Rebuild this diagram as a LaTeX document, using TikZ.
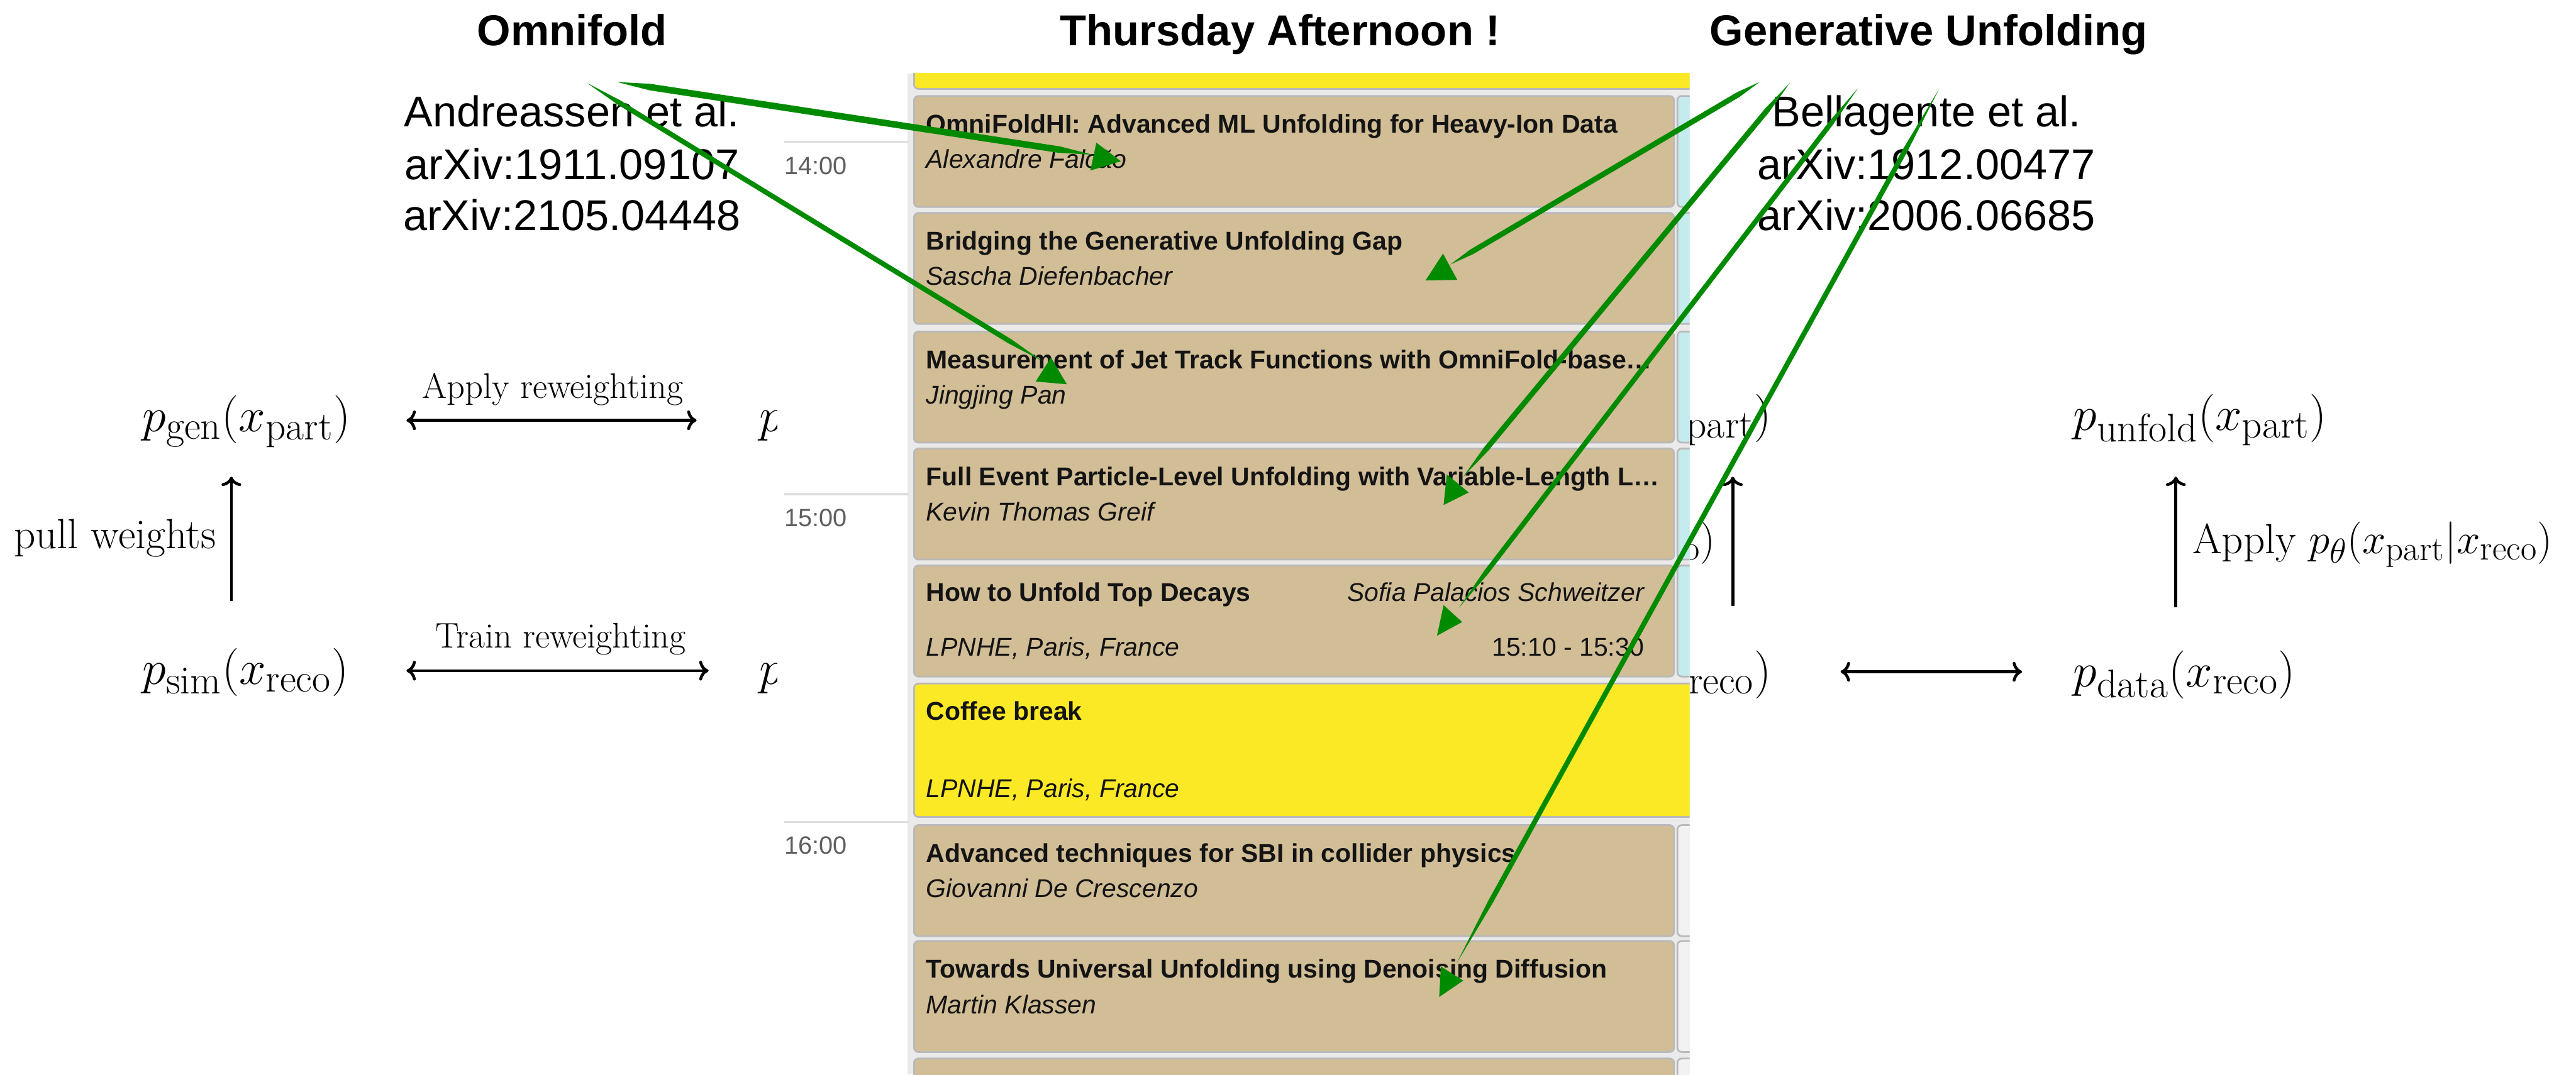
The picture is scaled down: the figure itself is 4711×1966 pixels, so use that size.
\RequirePackage{fix-cm}
\documentclass[tikz,border=0pt]{standalone}
\usepackage{fontspec}
\newfontfamily\arial{Liberation Sans}
\usetikzlibrary{calc,arrows.meta}
\DeclareMathSizes{25}{25}{20.7}{16}
\DeclareMathSizes{22}{22}{18}{14}

\definecolor{slottan}{RGB}{209,189,150}
\definecolor{slotyellow}{RGB}{252,233,38}
\definecolor{slotcyan}{RGB}{196,235,237}
\definecolor{slotpale}{RGB}{242,242,242}
\definecolor{panelgray}{RGB}{234,234,234}
\definecolor{slotedge}{RGB}{185,185,185}
\definecolor{timegray}{RGB}{95,95,95}
\definecolor{timeline}{RGB}{222,222,222}
\definecolor{brushgreen}{RGB}{0,138,0}

% tapered green stroke between two named coordinates
\newcommand\brushline[3]{%
  \path ($(#1)!0.07!(#2)$) coordinate (#1-qa) ($(#1)!0.93!(#2)$) coordinate (#1-qb);
  \fill[brush] (#1) -- ($(#1-qa)!#3!90:(#2)$) -- ($(#1-qb)!#3!90:(#2)$) -- (#2)
    -- ($(#1-qb)!#3!-90:(#2)$) -- ($(#1-qa)!#3!-90:(#2)$) -- cycle;}

\begin{document}
\begin{tikzpicture}[x=0.01cm, y=-0.01cm,
  mathnode/.style={inner sep=0, font=\fontsize{25}{30}\selectfont},
  lbl/.style={inner sep=0, font=\fontsize{18.5}{22}\selectfont},
  biglbl/.style={inner sep=0, font=\fontsize{22}{26}\selectfont},
  flow/.style={line width=1.5pt, -{To}},
  dflow/.style={line width=1.5pt, {To}-{To}},
  heading/.style={inner sep=0, anchor=base, font=\arial\bfseries\fontsize{22.5}{27}\selectfont},
  cite/.style={inner sep=0, anchor=base, font=\arial\fontsize{22.4}{26}\selectfont},
  slotbox/.style={draw=slotedge, line width=0.9pt, rounded corners=0.08cm, anchor=north west,
    minimum width=13.89cm, minimum height=2.03cm, inner sep=0, fill=slottan},
  sidebox/.style={draw=slotedge, line width=0.9pt, rounded corners=0.08cm, anchor=north west,
    minimum width=1cm, minimum height=2.03cm, inner sep=0},
  talk/.style={inner sep=0, anchor=base west, text=black!92, font=\arial\bfseries\fontsize{13.4}{16}\selectfont},
  who/.style={inner sep=0, anchor=base west, text=black!92, font=\arial\itshape\fontsize{13.4}{16}\selectfont},
  hour/.style={inner sep=0, anchor=base west, text=timegray, font=\arial\fontsize{13}{16}\selectfont},
  hourline/.style={draw=timeline, line width=1.1pt},
  brush/.style={fill=brushgreen}]

\useasboundingbox (0,0) rectangle (4711,1966);

% ---------- Omnifold diagram ----------
\node[mathnode, anchor=base west] (pgen) at (260,790) {$p_{\mathrm{gen}}(x_{\mathrm{part}})$};
\node[mathnode, anchor=base west] (psim) at (260,1252) {$p_{\mathrm{sim}}(x_{\mathrm{reco}})$};
% right-hand column, mostly covered by the timetable
\node[mathnode, anchor=base west] (pwL) at (1388,790) {$p$};
\node[mathnode, anchor=base west] (pdL) at (1388,1252) {$p$};

\draw[dflow] ([xshift=4.83cm,yshift=0.21cm]pgen.base west) -- ([xshift=-1.14cm,yshift=0.21cm]pwL.base west);
\draw[dflow] ([xshift=4.83cm,yshift=0.25cm]psim.base west) -- ([xshift=-0.92cm,yshift=0.25cm]pdL.base west);
\draw[flow] ([xshift=1.63cm,yshift=1.52cm]psim.base west) -- ([xshift=1.63cm,yshift=-0.82cm]pgen.base west);

\node[lbl, anchor=base] (apw) at (1011,729) {Apply reweighting};
\node[lbl, anchor=base] (trw) at (1025,1185) {Train reweighting};
\node[biglbl, anchor=base east] (pull) at (396,1004) {pull weights};

% ---------- generative unfolding diagram ----------
% left-hand column, mostly covered by the timetable
\node[mathnode, anchor=base east] (pgenG) at (3240,787) {$x_{\mathrm{part}})$};
\node[mathnode, anchor=base east] (psimG) at (3240,1256) {$x_{\mathrm{reco}})$};
\node[mathnode, anchor=base west] (punf) at (3791,787) {$p_{\mathrm{unfold}}(x_{\mathrm{part}})$};
\node[mathnode, anchor=base west] (pdat) at (3791,1256) {$p_{\mathrm{data}}(x_{\mathrm{reco}})$};

\draw[flow] ([xshift=-0.71cm,yshift=1.47cm]psimG.base east) -- ([xshift=-0.71cm,yshift=-0.85cm]pgenG.base east);
\draw[dflow] ([xshift=1.26cm,yshift=0.27cm]psimG.base east) -- ([xshift=-0.93cm,yshift=0.27cm]pdat.base west);
\draw[flow] ([xshift=1.88cm,yshift=1.45cm]pdat.base west) -- ([xshift=1.88cm,yshift=-0.85cm]punf.base west);

\node[biglbl, anchor=base east] (trainG) at (3138,1013) {$x_{\mathrm{reco}})$};
\node[biglbl, anchor=base west] (applyG) at (4009,1013) {Apply $p_\theta(x_{\mathrm{part}}|x_{\mathrm{reco}})$};

% ---------- timetable panel ----------
\begin{scope}
  \clip (1421,134) rectangle (3090,1966);
  \fill[white] (1421,134) rectangle (3090,1966);
  \fill[panelgray] (1660,134) rectangle (3090,1966);

  \node[sidebox, fill=slotyellow, minimum width=14.6cm, minimum height=0.9cm] (s0) at (1670,71) {};

  \node[slotbox] (s1) at (1670,174) {};
  \node[slotbox] (s2) at (1670,388) {};
  \node[slotbox] (s3) at (1670,605) {};
  \node[slotbox] (s4) at (1670,819) {};
  \node[slotbox] (s5) at (1670,1033) {};
  \node[slotbox, fill=slotyellow, minimum width=14.6cm, minimum height=2.44cm] (s6) at (1670,1249) {};
  \node[slotbox] (s7) at (1670,1508) {};
  \node[slotbox] (s8) at (1670,1720) {};
  \node[slotbox] (s9) at (1670,1935) {};

  \foreach \t/\n in {174/1,388/2,605/3,819/4,1033/5}
    \node[sidebox, fill=slotcyan] (c\n) at (3066,\t) {};
  \foreach \t/\n in {1508/7,1720/8,1935/9}
    \node[sidebox, fill=slotpale] (c\n) at (3066,\t) {};

  \node[talk] (t1) at ([xshift=0.23cm,yshift=-0.69cm]s1.north west) {OmniFoldHI: Advanced ML Unfolding for Heavy-Ion Data};
  \node[who]  (a1) at ([xshift=0.23cm,yshift=-1.34cm]s1.north west) {Alexandre Falcão};
  \node[talk] (t2) at ([xshift=0.23cm,yshift=-0.69cm]s2.north west) {Bridging the Generative Unfolding Gap};
  \node[who]  (a2) at ([xshift=0.23cm,yshift=-1.34cm]s2.north west) {Sascha Diefenbacher};
  \node[talk] (t3) at ([xshift=0.23cm,yshift=-0.69cm]s3.north west) {Measurement of Jet Track Functions with OmniFold-base…};
  \node[who]  (a3) at ([xshift=0.23cm,yshift=-1.34cm]s3.north west) {Jingjing Pan};
  \node[talk] (t4) at ([xshift=0.23cm,yshift=-0.69cm]s4.north west) {Full Event Particle-Level Unfolding with Variable-Length L…};
  \node[who]  (a4) at ([xshift=0.23cm,yshift=-1.34cm]s4.north west) {Kevin Thomas Greif};
  \node[talk] (t5) at ([xshift=0.23cm,yshift=-0.67cm]s5.north west) {How to Unfold Top Decays};
  \node[who, anchor=base east] (a5) at (3007,1100) {Sofia Palacios Schweitzer};
  \node[who]  (l5) at ([xshift=0.23cm,yshift=-1.67cm]s5.north west) {LPNHE, Paris, France};
  \node[who, anchor=base east, font=\arial\fontsize{13.4}{16}\selectfont] (h5) at (3007,1200) {15:10 - 15:30};
  \node[talk] (t6) at ([xshift=0.23cm,yshift=-0.68cm]s6.north west) {Coffee break};
  \node[who]  (l6) at ([xshift=0.23cm,yshift=-2.10cm]s6.north west) {LPNHE, Paris, France};
  \node[talk] (t7) at ([xshift=0.23cm,yshift=-0.69cm]s7.north west) {Advanced techniques for SBI in collider physics};
  \node[who]  (a7) at ([xshift=0.23cm,yshift=-1.34cm]s7.north west) {Giovanni De Crescenzo};
  \node[talk] (t8) at ([xshift=0.23cm,yshift=-0.69cm]s8.north west) {Towards Universal Unfolding using Denoising Diffusion};
  \node[who]  (a8) at ([xshift=0.23cm,yshift=-1.34cm]s8.north west) {Martin Klassen};

  \coordinate (m14a) at (1434,259); \coordinate (m14b) at (1662,259);
  \coordinate (m15a) at (1434,904); \coordinate (m15b) at (1662,904);
  \coordinate (m16a) at (1434,1504); \coordinate (m16b) at (1662,1504);
  \draw[hourline] (m14a) -- (m14b);
  \draw[hourline] (m15a) -- (m15b);
  \draw[hourline] (m16a) -- (m16b);
  \node[hour] (h14) at (1434,319) {14:00};
  \node[hour] (h15) at (1434,963) {15:00};
  \node[hour] (h16) at (1434,1563) {16:00};
\end{scope}

% ---------- headings and references ----------
\node[heading] (omni) at (1046,83) {Omnifold};
\node[heading] (thu) at (2341,83) {Thursday Afternoon !};
\node[heading] (gen) at (3527,83) {Generative Unfolding};

\node[cite] (ca1) at (1046,232) {Andreassen et al.};
\node[cite] (ca2) at (1046,328) {arXiv:1911.09107};
\node[cite] (ca3) at (1046,422) {arXiv:2105.04448};
\node[cite] (cb1) at (3523,232) {Bellagente et al.};
\node[cite] (cb2) at (3523,328) {arXiv:1912.00477};
\node[cite] (cb3) at (3523,422) {arXiv:2006.06685};

% ---------- green pointers ----------
\coordinate (g1s) at (1128,150); \coordinate (g1e) at (1998,283);
\coordinate (g2s) at (1074,152); \coordinate (g2e) at (1905,660);
\coordinate (g3s) at (3218,150); \coordinate (g3e) at (2652,484);
\coordinate (g4s) at (3273,152); \coordinate (g4e) at (2676,872);
\coordinate (g5s) at (3398,161); \coordinate (g5e) at (2668,1112);
\coordinate (g6s) at (3546,163); \coordinate (g6e) at (2664,1762);

\brushline{g1s}{g1e}{1.7pt}
\brushline{g2s}{g2e}{1.3pt}
\brushline{g3s}{g3e}{1.4pt}
\brushline{g4s}{g4e}{1.4pt}
\brushline{g5s}{g5e}{1.3pt}
\brushline{g6s}{g6e}{1.3pt}

\fill[brush] (2005,261) coordinate (h1a) -- (2050,295) coordinate (h1b) -- (1994,312) coordinate (h1c) -- cycle;
\fill[brush] (1922,654) coordinate (h2a) -- (1951,703) coordinate (h2b) -- (1894,698) coordinate (h2c) -- cycle;
\fill[brush] (2639,464) coordinate (h3a) -- (2665,512) coordinate (h3b) -- (2607,513) coordinate (h3c) -- cycle;
\fill[brush] (2646,868) coordinate (h4a) -- (2686,901) coordinate (h4b) -- (2640,924) coordinate (h4c) -- cycle;
\fill[brush] (2640,1107) coordinate (h5a) -- (2674,1138) coordinate (h5b) -- (2628,1163) coordinate (h5c) -- cycle;
\fill[brush] (2635,1768) coordinate (h6a) -- (2676,1794) coordinate (h6b) -- (2632,1824) coordinate (h6c) -- cycle;

\end{tikzpicture}
\end{document}
